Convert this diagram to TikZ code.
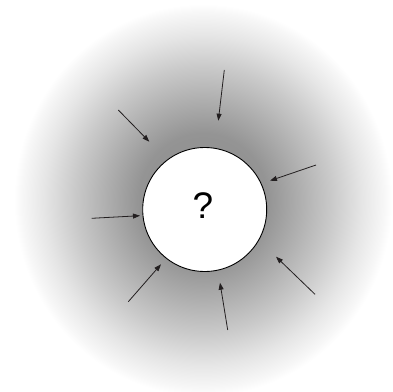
\documentclass[tikz,border=0pt]{standalone}
\usepackage{fontspec}
\setmainfont{Liberation Sans}
\usetikzlibrary{arrows.meta}
\pgfdeclareradialshading{halo}{\pgfpointorigin}{%
  color(0bp)=(black!45);
  color(8.5bp)=(black!42);
  color(13bp)=(black!31);
  color(17bp)=(black!21);
  color(21bp)=(black!10);
  color(24bp)=(black!3);
  color(25bp)=(white);
  color(50bp)=(white)}
\definecolor{inkc}{HTML}{231F20}
\tikzset{
  ray/.style={draw=inkc, line width=0.8pt, -{Triangle[length=7pt,width=5pt]}, shorten >=0pt},
  core/.style={circle, draw=black, line width=0.9pt, fill=white, minimum size=124pt, inner sep=0pt},
}
\begin{document}
\begin{tikzpicture}[x=1pt,y=-1pt]
\useasboundingbox (0,0) rectangle (393,391);
\fill[white] (0,0) rectangle (393,391);
\shade[shading=halo] (203,200) ellipse[x radius=189, y radius=196];
\node[core] (c) at (204.7,209.5) {};
\node[font=\fontsize{37}{40}\selectfont, anchor=center, inner sep=0pt] (q) at (203,206) {?};
% arrow start coordinates and tips
\coordinate (s1) at (224.3,70);    \coordinate (e1) at (218.3,120.7);
\coordinate (s2) at (118.3,110);   \coordinate (e2) at (149.3,141.7);
\coordinate (s3) at (316,165);     \coordinate (e3) at (270,180.7);
\coordinate (s4) at (91.7,218.3);  \coordinate (e4) at (140,215.7);
\coordinate (s5) at (128.3,301.7); \coordinate (e5) at (161,264.3);
\coordinate (s6) at (227.7,330);   \coordinate (e6) at (220,282.7);
\coordinate (s7) at (315,294.3);   \coordinate (e7) at (276,256.7);
\foreach \i in {1,...,7} { \draw[ray] (s\i) -- (e\i); }
\end{tikzpicture}
\end{document}
